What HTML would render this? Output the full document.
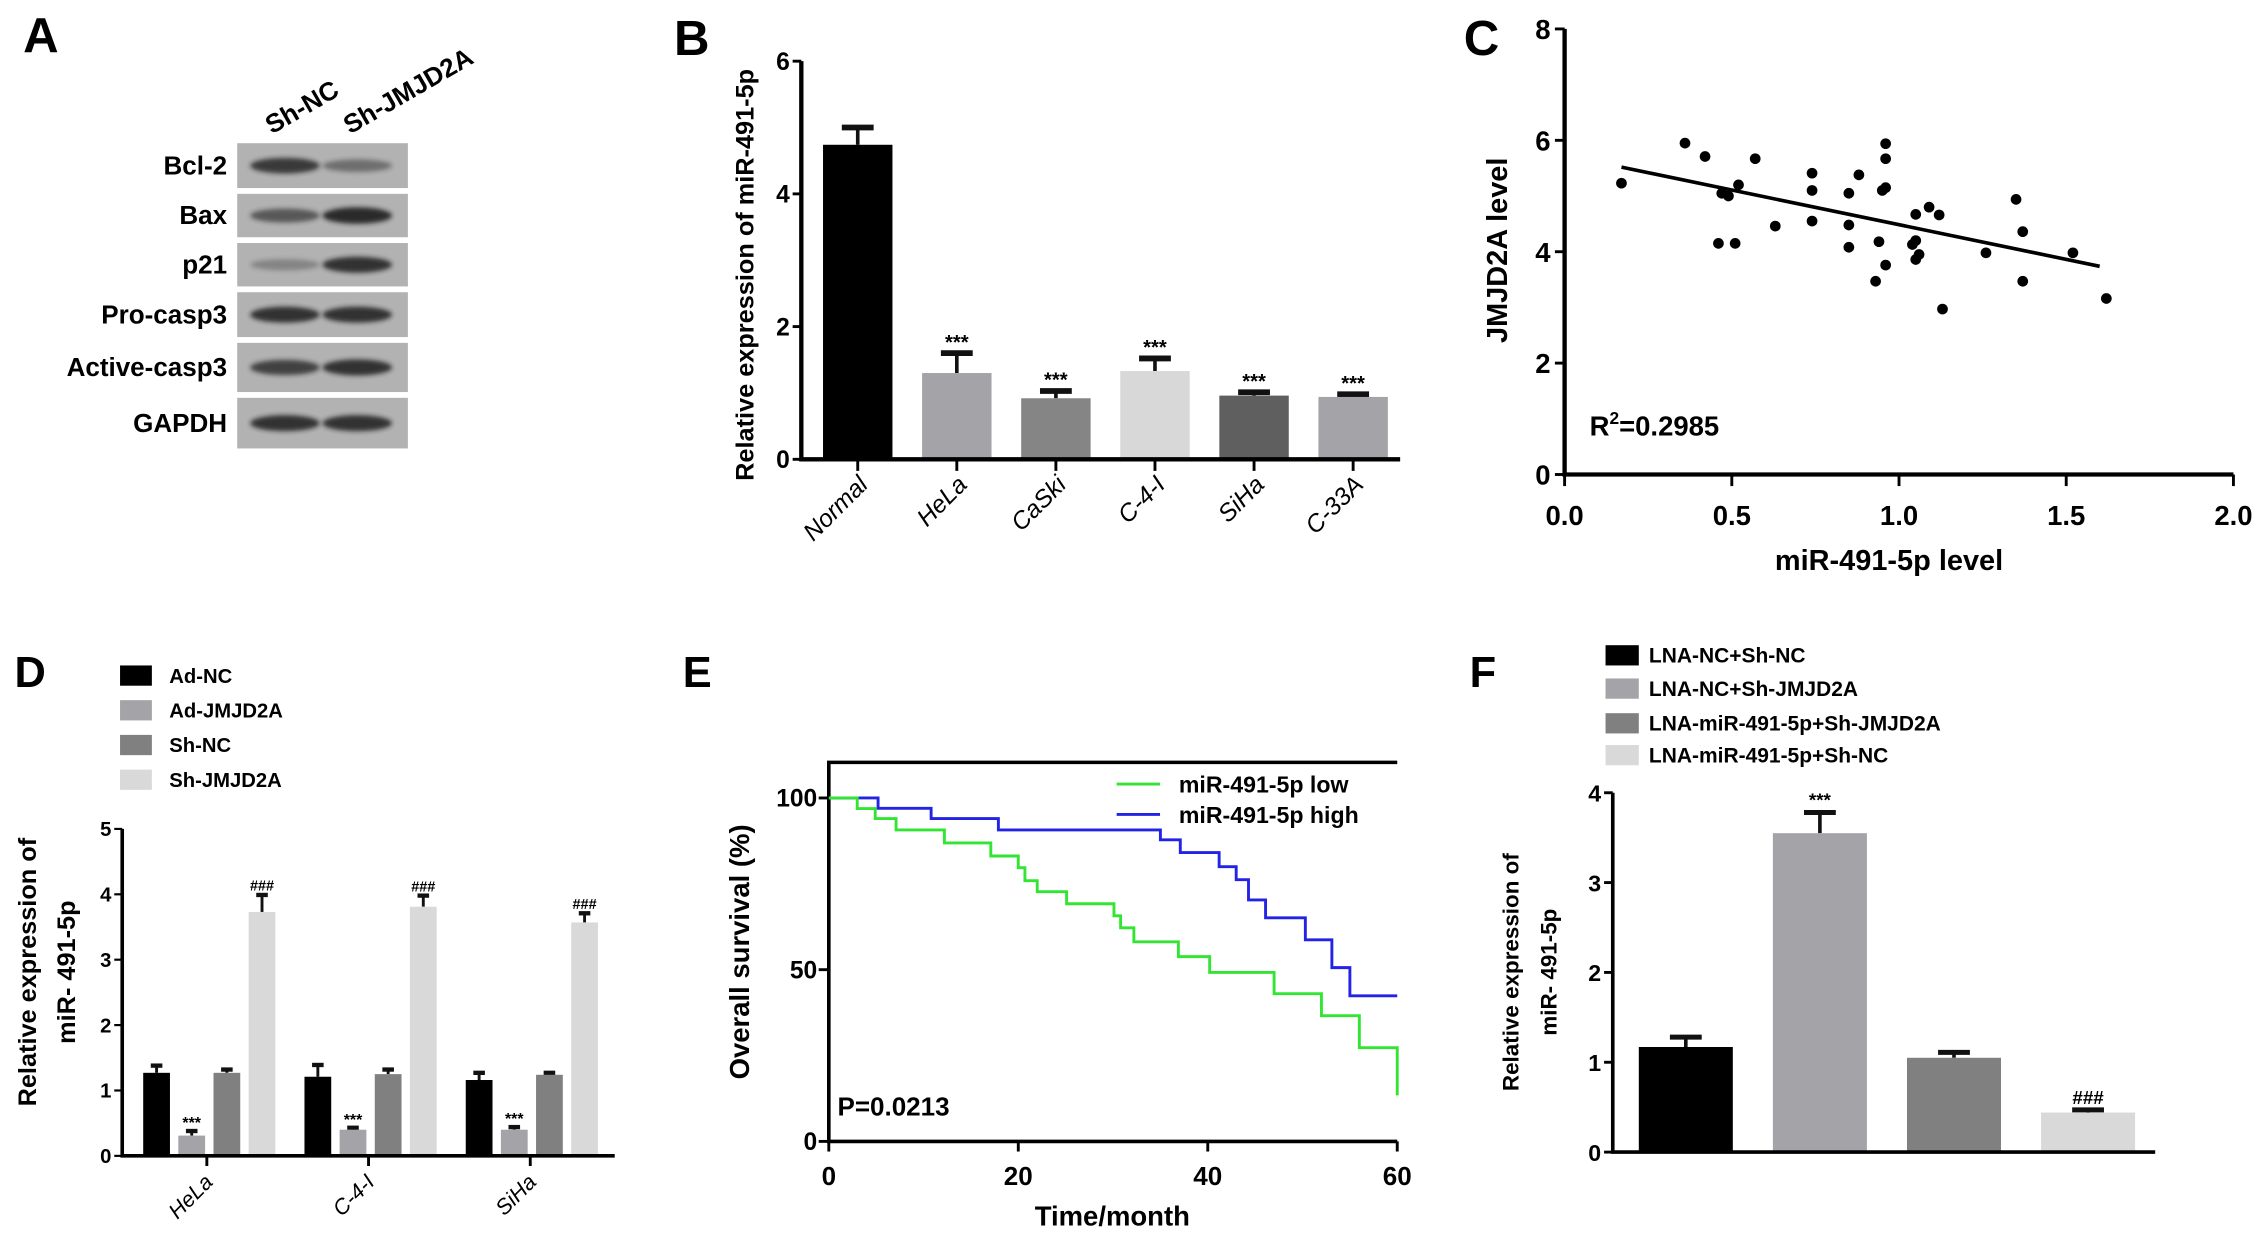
<!DOCTYPE html>
<html><head><meta charset="utf-8"><style>
html,body{margin:0;padding:0;background:#fff;}
svg{display:block;font-family:"Liberation Sans",Arial,sans-serif;font-weight:bold;}
</style></head><body>
<svg id="fig" width="2268" height="1247" viewBox="0 0 1568 862" preserveAspectRatio="none" xmlns="http://www.w3.org/2000/svg">
<defs><filter id="blur" x="-20%" y="-50%" width="140%" height="200%"><feGaussianBlur stdDeviation="1.6"/></filter></defs>
<rect width="1568" height="862" fill="#fff"/>
<g id="pA"></g>
<g id="pB"></g>
<g id="pC"></g>
<g id="pD"></g>
<g id="pE"></g>
<g id="pF"></g>
</svg>
<script>
// ---------- Data ----------
const blotLabels=['Bcl-2','Bax','p21','Pro-casp3','Active-casp3','GAPDH'];
const blotLane1=[0.8,0.6,0.3,0.85,0.75,0.85];
const blotLane2=[0.45,0.9,0.85,0.85,0.85,0.85];
const laneLabels=['Sh-NC','Sh-JMJD2A'];

const bCats=['Normal','HeLa','CaSki','C-4-I','SiHa','C-33A'];
const bVals=[4.74,1.30,0.92,1.33,0.96,0.94];
const bErr=[0.26,0.30,0.11,0.19,0.05,0.04];
const bSig=['','***','***','***','***','***'];
const bTicks=[0,2,4,6];

const cX=[0.17,0.36,0.42,0.57,0.52,0.47,0.49,0.46,0.51,0.63,0.74,0.74,0.74,0.85,0.88,0.85,0.85,0.96,0.96,0.95,0.96,0.94,0.96,0.93,1.05,1.09,1.12,1.04,1.05,1.05,1.06,1.13,1.26,1.35,1.37,1.37,1.52,1.62];
const cY=[5.23,5.95,5.71,5.67,5.2,5.05,5.0,4.15,4.15,4.46,5.41,5.1,4.55,5.05,5.38,4.48,4.08,5.94,5.67,5.1,5.15,4.18,3.76,3.47,4.67,4.8,4.66,4.13,4.2,3.86,3.95,2.97,3.98,4.94,4.36,3.47,3.98,3.16];
const cFitRange=[0.17,1.6];
const cFitSlope=-1.245;
const cFitIntercept=5.73;
const cYTicks=[0,2,4,6,8];
const cXTicks=[0,0.5,1.0,1.5,2.0];

const dGroups=['HeLa','C-4-I','SiHa'];
const dSeries=['Ad-NC','Ad-JMJD2A','Sh-NC','Sh-JMJD2A'];
const dAdNC=[1.27,1.21,1.16];
const dAdJ=[0.31,0.40,0.40];
const dShNC=[1.27,1.25,1.24];
const dShJ=[3.73,3.81,3.57];
const dErrAdNC=[0.11,0.18,0.11];
const dErrAdJ=[0.07,0.03,0.04];
const dErrShNC=[0.05,0.07,0.03];
const dErrShJ=[0.26,0.17,0.14];
const dTicks=[0,1,2,3,4,5];

const eLowT=[0,3,4.9,7.1,12.2,17.1,20,20.7,22,25.1,30.1,30.8,32.2,36.9,40.2,47,52,56,60];
const eLowS=[100,96.9,94,90.7,86.9,83.1,79.7,75.9,72.7,69.2,65.7,62.2,58.1,53.8,49.2,43,36.6,27.3,13.4];
const eHighT=[0,5.2,10.8,17.9,35,37.1,41.2,43,44.3,46.1,50.3,53.1,55,60];
const eHighS=[100,97,94,90.7,87.8,84.1,80,76.2,70.3,65.1,58.7,50.6,42.4,42.4];
const eXTicks=[0,20,40,60];
const eYTicks=[0,50,100];

const fCats=['LNA-NC+Sh-NC','LNA-NC+Sh-JMJD2A','LNA-miR-491-5p+Sh-JMJD2A','LNA-miR-491-5p+Sh-NC'];
const fVals=[1.17,3.55,1.05,0.44];
const fErr=[0.11,0.23,0.06,0.03];
const fSig=['','***','','###'];
const fTicks=[0,1,2,3,4];

// ---------- helpers ----------
const NS='http://www.w3.org/2000/svg';
function mk(tag,attrs,parent){const e=document.createElementNS(NS,tag);for(const k in attrs)e.setAttribute(k,attrs[k]);parent.appendChild(e);return e;}
function tx(str,attrs,parent){const e=mk('text',attrs,parent);e.textContent=str;return e;}
const A=document.getElementById('pA'),B=document.getElementById('pB'),C=document.getElementById('pC'),D=document.getElementById('pD'),E=document.getElementById('pE'),F=document.getElementById('pF');
let el;

// ---------- Panel A ----------
el=tx('A',{x:16,y:36,'font-size':34},A);


const rowTop=[99,134,168,202,237,275],rowH=[31,30,30,31,34,35];
blotLabels.forEach((lab,i)=>{
  el=mk('rect',{x:164,y:rowTop[i],width:118,height:rowH[i],fill:'#b2b2b2'},A);
  
  
  const cy=rowTop[i]+rowH[i]/2;
  [blotLane1[i],blotLane2[i]].forEach((v,j)=>{
    el=mk('ellipse',{cx:j?247:197,cy:cy,rx:24,ry:3+3*v,fill:'#1a1a1a',opacity:v,filter:'url(#blur)'},A);
    
    
  });
  el=tx(lab,{x:157,y:cy+6,'font-size':18,'text-anchor':'end'},A);
  
  
});
laneLabels.forEach((lab,j)=>{
  el=tx(lab,{x:j?190:188,y:93,'font-size':18,transform:`rotate(-30 ${j?242:188} 93)`,dx:j?52:0},A);
  
  
});

// ---------- Panel B ----------
const yB=v=>317.5-v*45.87, xB=i=>593+i*68.5;
const bColors=['#000','#a3a3a8','#858585','#d8d8d8','#5f5f5f','#a3a3a8'];
el=tx('B',{x:466,y:38,'font-size':34},B);


bCats.forEach((c,i)=>{
  const x=xB(i),top=yB(bVals[i]),et=yB(bVals[i]+bErr[i]);
  el=mk('line',{x1:x,y1:top,x2:x,y2:et,stroke:'#111','stroke-width':2.5},B);
  
  
  el=mk('line',{x1:x-11,y1:et,x2:x+11,y2:et,stroke:'#111','stroke-width':4},B);
  
  
  el=mk('rect',{x:x-24,y:top,width:48,height:yB(0)-top,fill:bColors[i]},B);
  
  
  if(bSig[i]){el=tx(bSig[i],{x:x,y:et-3,'font-size':14,'text-anchor':'middle'},B);
  
  }
  el=mk('line',{x1:x,y1:yB(0),x2:x,y2:yB(0)+8,stroke:'#000','stroke-width':2},B);
  
  
  el=tx(c,{x:x+8,y:336,'font-size':17,'font-style':'italic','font-weight':'normal','text-anchor':'end',transform:`rotate(-45 ${x+8} 336)`},B);
  
  
});
bTicks.forEach(t=>{
  el=mk('line',{x1:548,y1:yB(t),x2:554,y2:yB(t),stroke:'#000','stroke-width':2},B);
  
  
  el=tx(String(t),{x:546,y:yB(t)+6,'font-size':17,'text-anchor':'end'},B);
  
  
});
el=mk('path',{d:`M554 ${yB(6)} V${yB(0)} H968`,fill:'none',stroke:'#000','stroke-width':3},B);


el=tx('Relative expression of miR-491-5p',{x:521,y:190,'font-size':17.5,'text-anchor':'middle',transform:'rotate(-90 521 190)'},B);



// ---------- Panel C ----------
const xC=v=>1081.7+v*231.2, yC=v=>328-v*38.5;
el=tx('C',{x:1012,y:38,'font-size':34},C);


el=mk('path',{d:`M1081.7 ${yC(8)} V${yC(0)} H${xC(2)}`,fill:'none',stroke:'#000','stroke-width':3},C);


cYTicks.forEach(t=>{
  el=mk('line',{x1:1075,y1:yC(t),x2:1081.7,y2:yC(t),stroke:'#000','stroke-width':2},C);
  
  
  el=tx(String(t),{x:1072,y:yC(t)+7,'font-size':19,'text-anchor':'end'},C);
  
  
});
cXTicks.forEach(t=>{
  el=mk('line',{x1:xC(t),y1:328,x2:xC(t),y2:336,stroke:'#000','stroke-width':2},C);
  
  
  el=tx(t.toFixed(1),{x:xC(t),y:363,'font-size':19,'text-anchor':'middle'},C);
  
  
});
cX.forEach((v,i)=>{
  el=mk('circle',{cx:xC(v),cy:yC(cY[i]),r:3.7,fill:'#000'},C);
  
  
});
el=mk('line',{x1:xC(cFitRange[0]),y1:yC(cFitIntercept+cFitSlope*cFitRange[0]),x2:xC(cFitRange[1]),y2:yC(cFitIntercept+cFitSlope*cFitRange[1]),stroke:'#000','stroke-width':2.5},C);


el=tx('',{x:1099,y:301,'font-size':19},C);
el.innerHTML='R<tspan dy="-8" font-size="12">2</tspan><tspan dy="8">=0.2985</tspan>';


el=tx('miR-491-5p  level',{x:1306,y:394,'font-size':20,'text-anchor':'middle','xml:space':'preserve'},C);


el=tx('JMJD2A level',{x:1042,y:173,'font-size':20,'text-anchor':'middle',transform:'rotate(-90 1042 173)'},C);



// ---------- Panel D ----------
const yD=v=>799-v*45.2;
const dColors=['#000','#a3a3a8','#808080','#d9d9d9'];
const dData=[dAdNC,dAdJ,dShNC,dShJ], dErrs=[dErrAdNC,dErrAdJ,dErrShNC,dErrShJ];
el=tx('D',{x:10,y:475,'font-size':30},D);


dSeries.forEach((s,i)=>{
  const y=467+i*24;
  el=mk('rect',{x:83,y:y-7,width:22,height:14,fill:dColors[i]},D);
  
  
  el=tx(s,{x:117,y:y+5,'font-size':14},D);
  
  
});
dGroups.forEach((g,gi)=>{
  const start=99+gi*111.5;
  dData.forEach((arr,si)=>{
    const x=start+si*24.3, v=arr[gi], top=yD(v), et=yD(v+dErrs[si][gi]), cx=x+9.25;
    el=mk('line',{x1:cx,y1:top,x2:cx,y2:et,stroke:'#111','stroke-width':2},D);
    
    
    el=mk('line',{x1:cx-4,y1:et,x2:cx+4,y2:et,stroke:'#111','stroke-width':3},D);
    
    
    el=mk('rect',{x:x,y:top,width:18.5,height:yD(0)-top,fill:dColors[si]},D);
    
    
    if(si===1){el=tx('***',{x:cx,y:et-2,'font-size':11,'text-anchor':'middle'},D);
    
    }
    if(si===3){el=tx('###',{x:cx,y:et-3,'font-size':10,'text-anchor':'middle'},D);
    
    }
  });
  const gc=143+gi*111.8;
  el=mk('line',{x1:gc,y1:799,x2:gc,y2:806,stroke:'#000','stroke-width':2},D);
  
  
  el=tx(g,{x:gc+5,y:818,'font-size':15,'font-style':'italic','font-weight':'normal','text-anchor':'end',transform:`rotate(-45 ${gc+5} 818)`},D);
  
  
});
dTicks.forEach(t=>{
  el=mk('line',{x1:79,y1:yD(t),x2:84.5,y2:yD(t),stroke:'#000','stroke-width':1.5},D);
  
  
  el=tx(String(t),{x:77,y:yD(t)+5,'font-size':14,'text-anchor':'end'},D);
  
  
});
el=mk('path',{d:`M84.5 ${yD(5)} V799 H425`,fill:'none',stroke:'#000','stroke-width':2.5},D);


el=tx('Relative expression of',{x:25,y:672,'font-size':17.5,'text-anchor':'middle',transform:'rotate(-90 25 672)'},D);


el=tx('miR- 491-5p',{x:52,y:672,'font-size':17.5,'text-anchor':'middle',transform:'rotate(-90 52 672)'},D);



// ---------- Panel E ----------
const xE=t=>573+t*6.55, yE=p=>789-p*2.374;
el=tx('E',{x:472,y:475,'font-size':30},E);


el=mk('path',{d:`M${xE(60)} 527 H573 V789 H${xE(60)}`,fill:'none',stroke:'#000','stroke-width':2.5},E);


eXTicks.forEach(t=>{
  el=mk('line',{x1:xE(t),y1:789,x2:xE(t),y2:796,stroke:'#000','stroke-width':2},E);
  
  
  el=tx(String(t),{x:xE(t),y:819,'font-size':18,'text-anchor':'middle'},E);
  
  
});
eYTicks.forEach(t=>{
  el=mk('line',{x1:566,y1:yE(t),x2:573,y2:yE(t),stroke:'#000','stroke-width':2},E);
  
  
  el=tx(String(t),{x:565,y:yE(t)+6,'font-size':17,'text-anchor':'end'},E);
  
  
});
function stepPath(T,S){let d=`M${xE(T[0])} ${yE(S[0])}`;for(let i=1;i<T.length;i++){d+=` H${xE(T[i])} V${yE(S[i])}`;}return d;}
el=mk('path',{d:stepPath(eHighT,eHighS),fill:'none',stroke:'#2323e6','stroke-width':2},E);


el=mk('path',{d:stepPath(eLowT,eLowS),fill:'none',stroke:'#33e533','stroke-width':2},E);


[['miR-491-5p low','#33e533',542],['miR-491-5p high','#2323e6',563]].forEach(l=>{
  el=mk('line',{x1:772,y1:l[2],x2:802,y2:l[2],stroke:l[1],'stroke-width':2},E);
  
  
  el=tx(l[0],{x:815,y:l[2]+6,'font-size':16},E);
  
  
});
el=tx('P=0.0213',{x:579,y:771,'font-size':18},E);


el=tx('Time/month',{x:769,y:847,'font-size':19,'text-anchor':'middle'},E);


el=tx('Overall survival (%)',{x:518,y:658,'font-size':19,'text-anchor':'middle',transform:'rotate(-90 518 658)'},E);



// ---------- Panel F ----------
const yF=v=>796.4-v*62.1;
const fColors=['#000','#a3a3a8','#808080','#d9d9d9'];
el=tx('F',{x:1016,y:475,'font-size':30},F);


fCats.forEach((c,i)=>{
  const ly=[453,476,500,522][i];
  el=mk('rect',{x:1110,y:ly-7,width:23,height:14,fill:fColors[i]},F);
  
  
  el=tx(c,{x:1140,y:ly+5,'font-size':14.5},F);
  
  
  const x=1133+i*92.7, top=yF(fVals[i]), et=yF(fVals[i]+fErr[i]), cx=x+32.5;
  el=mk('line',{x1:cx,y1:top,x2:cx,y2:et,stroke:'#111','stroke-width':2.5},F);
  
  
  el=mk('line',{x1:cx-11,y1:et,x2:cx+11,y2:et,stroke:'#111','stroke-width':3.5},F);
  
  
  el=mk('rect',{x:x,y:top,width:65,height:yF(0)-top,fill:fColors[i]},F);
  
  
  if(fSig[i]){el=tx(fSig[i],{x:cx,y:et-4,'font-size':13,'text-anchor':'middle'},F);
  
  }
});
fTicks.forEach(t=>{
  el=mk('line',{x1:1109,y1:yF(t),x2:1115,y2:yF(t),stroke:'#000','stroke-width':2},F);
  
  
  el=tx(String(t),{x:1107,y:yF(t)+6,'font-size':16,'text-anchor':'end'},F);
  
  
});
el=mk('path',{d:`M1115 ${yF(4)} V796.4 H1490`,fill:'none',stroke:'#000','stroke-width':2.5},F);


el=tx('Relative expression of',{x:1050,y:672,'font-size':15.5,'text-anchor':'middle',transform:'rotate(-90 1050 672)'},F);


el=tx('miR- 491-5p',{x:1076,y:672,'font-size':15.5,'text-anchor':'middle',transform:'rotate(-90 1076 672)'},F);


</script>
</body></html>
